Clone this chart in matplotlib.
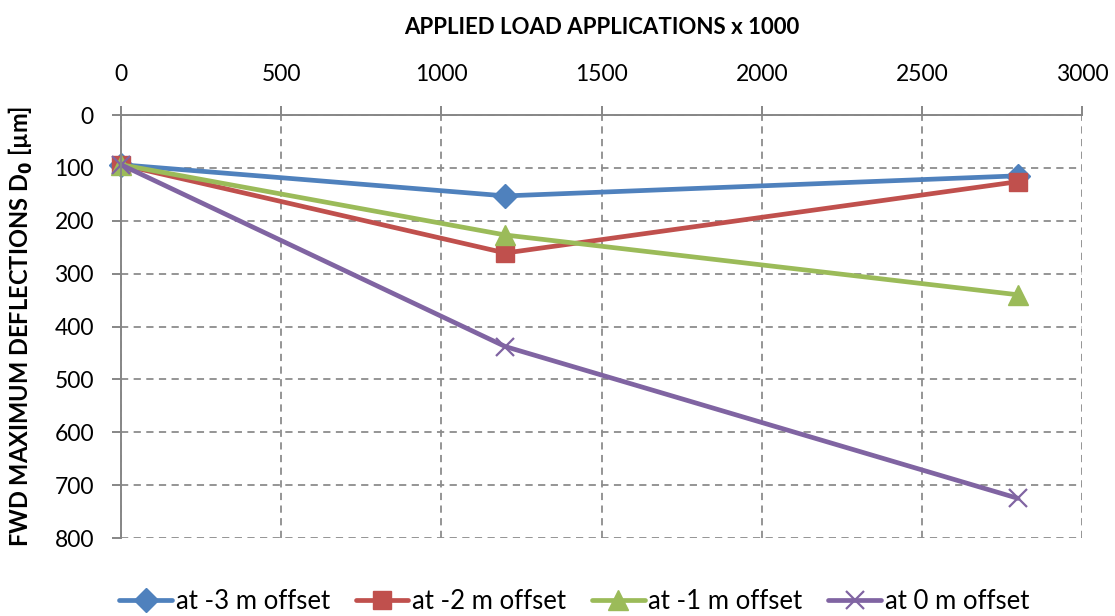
import matplotlib.pyplot as plt

# FWD maximum deflection D0 vs applied load applications
load_k = [0, 1200, 2800]
d0_m3 = [94, 153, 115]
d0_m2 = [94, 261, 126]
d0_m1 = [94, 227, 340]
d0_0 = [94, 438, 725]

series = [
    ("at -3 m offset", d0_m3, "#4F81BD", "D", 12),
    ("at -2 m offset", d0_m2, "#C0504D", "s", 13.5),
    ("at -1 m offset", d0_m1, "#9BBB59", "^", 15),
    ("at 0 m offset", d0_0, "#8064A2", "x", 13),
]

plt.rcParams["font.family"] = ["Lato", "DejaVu Sans"]

fig = plt.figure(figsize=(11.15, 6.16), dpi=100)
ax = fig.add_axes([0.1085, 0.1266, 0.862, 0.6867])

for label, vals, col, mk, ms in series:
    kw = dict(color=col, lw=3.4, marker=mk, markersize=ms, label=label,
              solid_capstyle="round", solid_joinstyle="round", clip_on=False)
    if mk == "x":
        kw.update(markeredgewidth=1.6)
    else:
        kw.update(markeredgecolor=col)
    ax.plot(load_k, vals, **kw)

ax.set_xlim(0, 3000)
ax.set_ylim(800, 0)
ax.set_xticks(range(0, 3001, 500))
ax.set_yticks(range(0, 801, 100))
ax.xaxis.tick_top()
ax.xaxis.set_label_position("top")

ax.grid(True, color="#8c8c8c", lw=1.3, ls=(0, (4, 3)))
ax.set_axisbelow(True)
for side in ["right", "bottom"]:
    ax.spines[side].set_visible(False)
for side in ["top", "left"]:
    ax.spines[side].set_color("#868686")
    ax.spines[side].set_linewidth(1.4)
ax.tick_params(axis="both", colors="#868686", width=1.4, length=6.5,
               labelcolor="black", labelsize=16.5)
ax.tick_params(axis="x", pad=15)
ax.tick_params(axis="y", pad=13)

ax.set_xlabel("APPLIED LOAD APPLICATIONS x 1000", fontsize=16,
              fontweight="bold", labelpad=22)
ax.set_ylabel("FWD MAXIMUM DEFLECTIONS D$_\\mathbf{0}$ [µm]", fontsize=17,
              fontweight="bold", labelpad=14)

fig.legend(loc="lower center", bbox_to_anchor=(0.515, -0.034), ncol=4,
           frameon=False, fontsize=18.5, handlelength=2.05,
           handletextpad=0.15, columnspacing=1.0)

fig.savefig("out.png", dpi=100)
